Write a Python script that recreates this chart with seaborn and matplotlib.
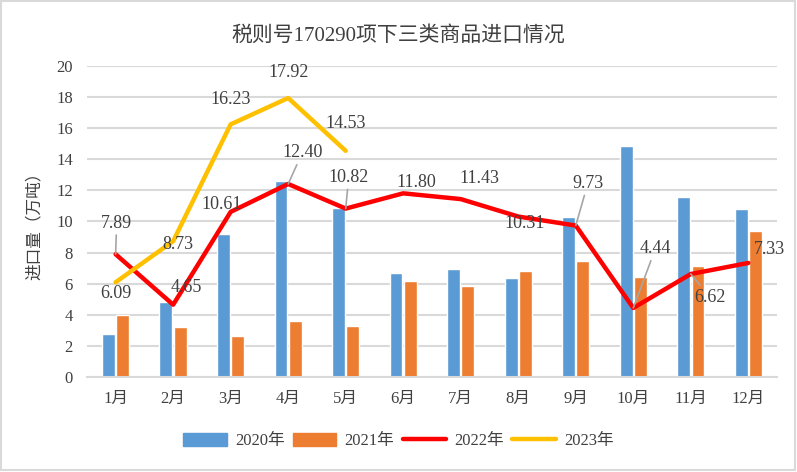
import numpy as np
import pandas as pd
import seaborn as sns
import matplotlib.pyplot as plt
from matplotlib.patches import Patch, Rectangle
from matplotlib.lines import Line2D

months = ["1月", "2月", "3月", "4月", "5月", "6月", "7月", "8月", "9月", "10月", "11月", "12月"]
v2020 = [2.80, 4.85, 9.22, 12.60, 10.89, 6.71, 6.97, 6.37, 10.31, 14.85, 11.59, 10.80]
v2021 = [4.00, 3.25, 2.61, 3.61, 3.29, 6.14, 5.86, 6.84, 7.48, 6.46, 7.16, 9.35]
v2022 = [7.89, 4.65, 10.61, 12.40, 10.82, 11.80, 11.43, 10.31, 9.73, 4.44, 6.62, 7.33]
v2023 = [6.09, 8.73, 16.23, 17.92, 14.53]
yticks = [0, 2, 4, 6, 8, 10, 12, 14, 16, 18, 20]

BLUE = "#5b9bd5"
ORANGE = "#ed7d31"
RED = "#ff0000"
YELLOW = "#ffc000"
GRID = "#d9d9d9"
TXT = "#404040"

# label offsets in pixels (dx, dy) and whether a leader line is drawn
off2022 = [(1, 31, True), (13, 17, False), (-9, 7, False), (14, 31, True), (3, 31, True), (13, 11, False),
           (19, 21, False), (6, -7, False), (12, 42, True), (22, 59, True), (19, -23, True), (21, 13, False)]
off2023 = [(0, -11, False), (5, -3, False), (0, 25, False), (0, 26, False), (0, 27, False)]

sns.set_theme(style="white")
plt.rcParams['font.family'] = ['Liberation Serif', 'Noto Sans CJK SC', 'DejaVu Sans']

bars = pd.DataFrame({
    "month": months * 2,
    "value": v2020 + v2021,
    "year": ["2020年"] * 12 + ["2021年"] * 12,
})
pos = np.arange(len(months))

fig = plt.figure(figsize=(7.97, 4.72), dpi=100)
ax = fig.add_axes([0.109, 0.201, 0.866, 0.660])

sns.barplot(data=bars, x="month", y="value", hue="year", order=months,
            palette=[BLUE, ORANGE], saturation=1, width=0.5, gap=0.1,
            legend=False, ax=ax, zorder=2)
sns.lineplot(x=pos, y=v2022, color=RED, linewidth=3.2, ax=ax, zorder=3)
sns.lineplot(x=pos[:len(v2023)], y=v2023, color=YELLOW, linewidth=3.2, ax=ax, zorder=3)

ax.set_ylim(0, 20)
ax.set_xlim(-0.5, 11.5)
ax.set_yticks(yticks)
ax.yaxis.grid(True, color=GRID, linewidth=1.5, zorder=0)
ax.set_axisbelow(True)
for s in ["top", "right", "left"]:
    ax.spines[s].set_visible(False)
ax.spines["bottom"].set_color(GRID)
ax.spines["bottom"].set_linewidth(1.5)
ax.tick_params(axis="both", length=0, labelsize=12, colors=TXT)
ax.tick_params(axis="y", pad=10)
ax.tick_params(axis="x", pad=10)
ax.set_xlabel("")
ax.set_ylabel("进口量（万吨）", fontsize=12, color=TXT, labelpad=10)

def label_points(xs, ys, offs):
    for x, y, (dx, dy, lead) in zip(xs, ys, offs):
        kw = {}
        if lead:
            kw["arrowprops"] = dict(arrowstyle="-", color="#a6a6a6", lw=1.2, shrinkA=0, shrinkB=0)
        ax.annotate(f"{y:.2f}", xy=(x, y), xytext=(dx, dy), textcoords="offset pixels",
                    ha="center", va="center", fontsize=13, color=TXT, zorder=5, **kw)

label_points(pos, v2022, off2022)
label_points(pos[:len(v2023)], v2023, off2023)

fig.suptitle("税则号170290项下三类商品进口情况", y=0.945, fontsize=15, color=TXT)

handles = [Patch(color=BLUE), Patch(color=ORANGE),
           Line2D([], [], color=RED, lw=3.2), Line2D([], [], color=YELLOW, lw=3.2)]
fig.legend(handles, ["2020年", "2021年", "2022年", "2023年"], loc="center",
           bbox_to_anchor=(0.5, 0.066), ncol=4, frameon=False, fontsize=12,
           handlelength=2.6, handleheight=0.8, handletextpad=0.5, columnspacing=0.5,
           labelcolor=TXT)

fig.patches.append(Rectangle((0.001, 0.004), 0.996, 0.993, transform=fig.transFigure,
                             fill=False, edgecolor=GRID, linewidth=1.5))

fig.savefig("out.png", dpi=100)
